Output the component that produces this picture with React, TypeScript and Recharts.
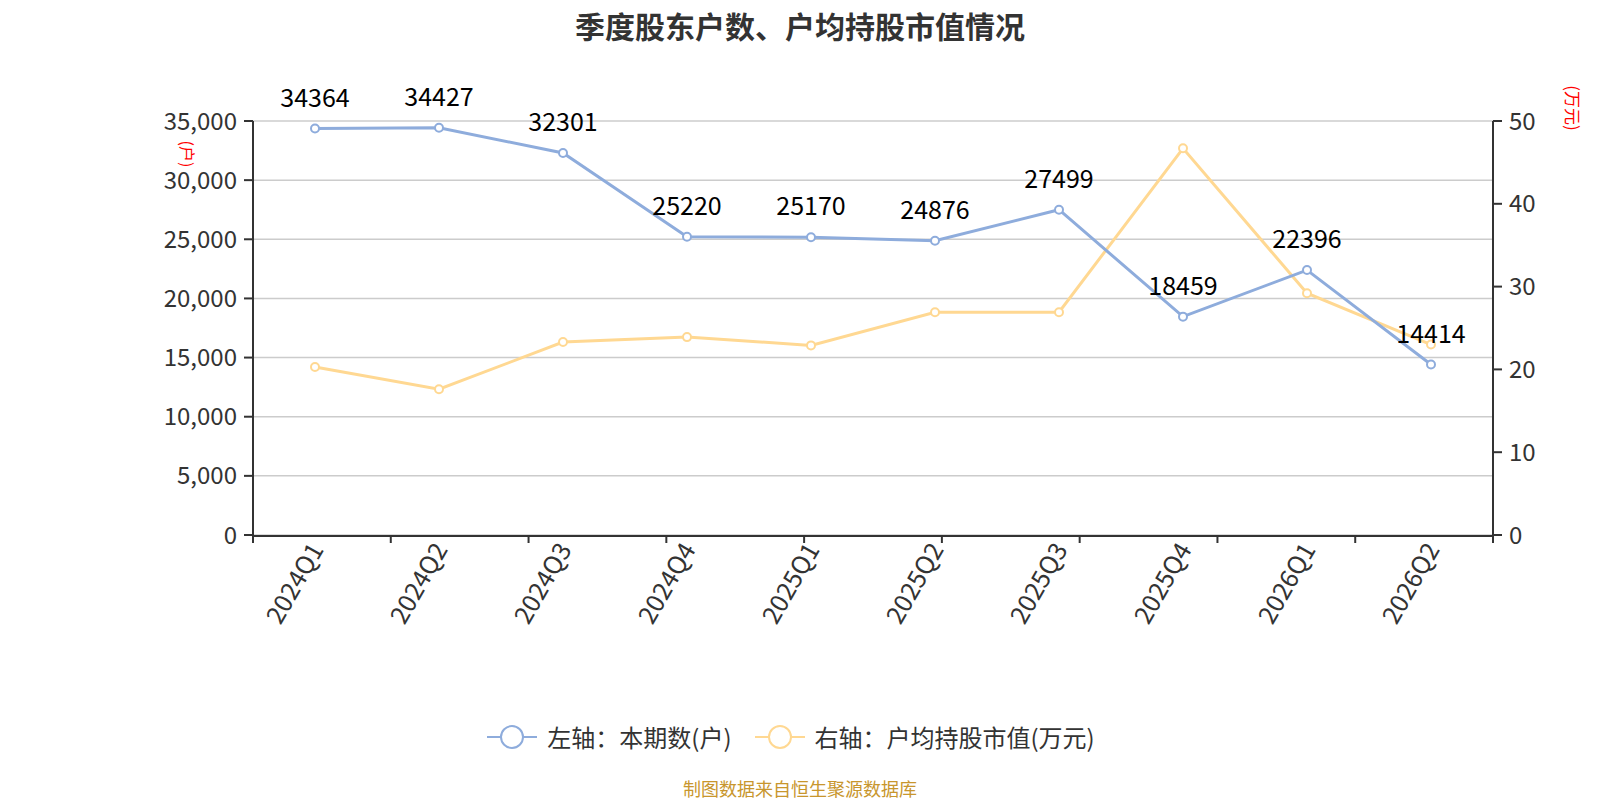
// @ts-nocheck
import { LineChart, Line, XAxis, YAxis, CartesianGrid, Legend, LabelList } from "recharts";

const quarters = ["2024Q1", "2024Q2", "2024Q3", "2024Q4", "2025Q1", "2025Q2", "2025Q3", "2025Q4", "2026Q1", "2026Q2"];
const households = [34364, 34427, 32301, 25220, 25170, 24876, 27499, 18459, 22396, 14414];
const avgValue = [20.3, 17.6, 23.3, 23.9, 22.9, 26.9, 26.9, 46.7, 29.2, 23.0];
const leftTicks = [0, 5000, 10000, 15000, 20000, 25000, 30000, 35000];
const rightTicks = [0, 10, 20, 30, 40, 50];
const edgeTicks = [0, 1, 2, 3, 4, 5, 6, 7, 8, 9, 10];

const data = quarters.map((q, i) => ({ q, households: households[i], avgValue: avgValue[i] }));

const COLORS = { blue: "#8EACDC", orange: "#FFD892" };
const FONT = '"Noto Sans CJK SC", "Noto Sans", sans-serif';

const XTick = ({ x, y, payload }) => (
  <text
    transform={`translate(${x},${y}) rotate(-60)`}
    textAnchor="end"
    dominantBaseline="central"
    fontSize={25}
    fill="#333"
  >
    {payload.value}
  </text>
);

const ValueLabel = ({ x, y, value }) => (
  <text x={x} y={y - 22} textAnchor="middle" fontSize={25} fill="#000">
    {value}
  </text>
);

const LegendContent = () => (
  <div style={{ display: "flex", justifyContent: "center", alignItems: "center", fontSize: 24, color: "#333", paddingRight: 18 }}>
    {[
      { label: "左轴：本期数(户)", color: COLORS.blue },
      { label: "右轴：户均持股市值(万元)", color: COLORS.orange },
    ].map((it, i) => (
      <div key={it.label} style={{ display: "flex", alignItems: "center", marginLeft: i ? 23 : 0 }}>
        <svg width={50} height={26}>
          <line x1={0} y1={13} x2={50} y2={13} stroke={it.color} strokeWidth={2} />
          <circle cx={25} cy={13} r={11} fill="#fff" stroke={it.color} strokeWidth={2} />
        </svg>
        <span style={{ marginLeft: 10, lineHeight: "30px" }}>{it.label}</span>
      </div>
    ))}
  </div>
);

export default function App() {
  return (
    <div style={{ position: "absolute", left: 0, top: 0, width: 1600, height: 800, background: "#fff", fontFamily: FONT }}>
      <div style={{ position: "absolute", top: 6, width: 1600, textAlign: "center", fontSize: 30, fontWeight: "bold", color: "#333", lineHeight: "38px" }}>
        季度股东户数、户均持股市值情况
      </div>
      <LineChart width={1600} height={800} data={data} margin={{ top: 121, right: 0, bottom: 0, left: 0 }}>
        <CartesianGrid yAxisId="left" xAxisId="b" vertical={false} stroke="#ccc" strokeWidth={1.5} />
        <XAxis
          xAxisId="b"
          dataKey="q"
          scale="band"
          height={264}
          interval={0}
          tickLine={false}
          tickSize={8}
          tickMargin={0}
          axisLine={{ stroke: "#333", strokeWidth: 2 }}
          tick={<XTick />}
        />
        <XAxis
          xAxisId="a"
          type="number"
          domain={[0, 10]}
          ticks={edgeTicks}
          height={1}
          tickFormatter={() => ""}
          axisLine={false}
          tickSize={8}
          tickLine={{ stroke: "#333", strokeWidth: 2 }}
        />
        <YAxis
          yAxisId="left"
          width={253}
          domain={[0, 35000]}
          ticks={leftTicks}
          tickFormatter={(v) => v.toLocaleString("en-US")}
          tick={{ fontSize: 24, fill: "#333" }}
          tickSize={9}
          tickMargin={7}
          axisLine={{ stroke: "#333", strokeWidth: 2 }}
          tickLine={{ stroke: "#333", strokeWidth: 2 }}
        />
        <YAxis
          yAxisId="right"
          orientation="right"
          width={107}
          domain={[0, 50]}
          ticks={rightTicks}
          tick={{ fontSize: 24, fill: "#333" }}
          tickSize={9}
          tickMargin={7}
          axisLine={{ stroke: "#333", strokeWidth: 2 }}
          tickLine={{ stroke: "#333", strokeWidth: 2 }}
        />
        <Legend
          layout="horizontal"
          verticalAlign="middle"
          content={<LegendContent />}
          wrapperStyle={{ top: 722, left: 0, width: 1600, height: 30 }}
        />
        <Line
          xAxisId="b"
          yAxisId="right"
          dataKey="avgValue"
          stroke={COLORS.orange}
          strokeWidth={3}
          dot={{ r: 4, fill: "#fff", stroke: COLORS.orange, strokeWidth: 2 }}
          isAnimationActive={false}
        />
        <Line
          xAxisId="b"
          yAxisId="left"
          dataKey="households"
          stroke={COLORS.blue}
          strokeWidth={3}
          dot={{ r: 4, fill: "#fff", stroke: COLORS.blue, strokeWidth: 2 }}
          isAnimationActive={false}
        >
          <LabelList dataKey="households" content={<ValueLabel />} />
        </Line>
      </LineChart>
      <div style={{ position: "absolute", left: 175, top: 144, fontSize: 16, color: "#f00", transform: "rotate(90deg)", lineHeight: "20px", whiteSpace: "nowrap" }}>
        (户)
      </div>
      <div style={{ position: "absolute", left: 1550, top: 98, fontSize: 17, color: "#f00", transform: "rotate(90deg)", lineHeight: "20px", whiteSpace: "nowrap" }}>
        (万元)
      </div>
      <div style={{ position: "absolute", top: 777, width: 1600, textAlign: "center", fontSize: 18, color: "#C8962D", lineHeight: "22px" }}>
        制图数据来自恒生聚源数据库
      </div>
    </div>
  );
}
